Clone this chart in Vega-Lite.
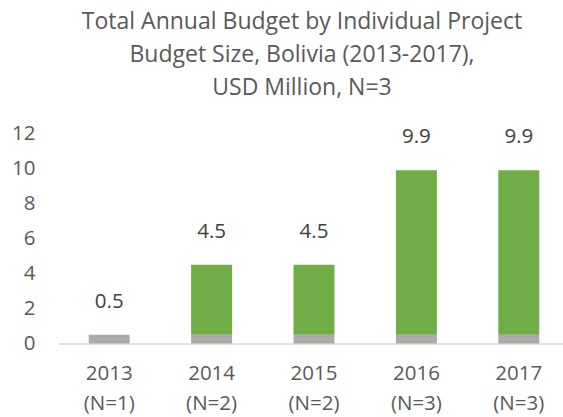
{
  "$schema": "https://vega.github.io/schema/vega-lite/v6.json",
  "autosize": {"type": "none"},
  "width": 512,
  "height": 210,
  "padding": {"left": 58, "top": 133.5, "right": 0, "bottom": 73.5},
  "background": "white",
  "config": {"view": {"stroke": null}, "axisY": {"labelOverlap": false}},
  "title": {
    "text": ["Total Annual Budget by Individual Project", "Budget Size, Bolivia (2013-2017),", "USD Million, N=3"],
    "font": "Open Sans",
    "fontSize": 23,
    "fontWeight": "normal",
    "color": "#595959",
    "lineHeight": 33,
    "anchor": "middle",
    "frame": "group",
    "baseline": "alphabetic",
    "dx": -12,
    "offset": 6
  },
  "data": {
    "values": [
      {"year": "2013 (N=1)", "size": "small", "value": 0.5},
      {"year": "2014 (N=2)", "size": "small", "value": 0.5},
      {"year": "2014 (N=2)", "size": "large", "value": 4.0},
      {"year": "2015 (N=2)", "size": "small", "value": 0.5},
      {"year": "2015 (N=2)", "size": "large", "value": 4.0},
      {"year": "2016 (N=3)", "size": "small", "value": 0.5},
      {"year": "2016 (N=3)", "size": "large", "value": 9.4},
      {"year": "2017 (N=3)", "size": "small", "value": 0.5},
      {"year": "2017 (N=3)", "size": "large", "value": 9.4}
    ]
  },
  "encoding": {
    "x": {
      "field": "year",
      "type": "nominal",
      "sort": null,
      "scale": {"paddingInner": 0.6, "paddingOuter": 0.3},
      "axis": {
        "title": null,
        "labelAngle": 0,
        "labelExpr": "split(datum.label, ' ')",
        "labelFont": "Open Sans",
        "labelFontSize": 20.5,
        "labelColor": "#595959",
        "labelLineHeight": 30,
        "labelPadding": 20,
        "ticks": false,
        "domainColor": "#d9d9d9",
        "domainWidth": 1.5,
        "grid": false
      }
    },
    "y": {
      "field": "value",
      "type": "quantitative",
      "aggregate": "sum",
      "scale": {"domain": [0, 12], "nice": false},
      "axis": {
        "title": null,
        "values": [0, 2, 4, 6, 8, 10, 12],
        "tickCount": 7,
        "labelOverlap": false,
        "labelBound": false,
        "domain": false,
        "ticks": false,
        "grid": false,
        "labelFont": "Open Sans",
        "labelFontSize": 20.5,
        "labelColor": "#595959",
        "labelPadding": 23
      }
    }
  },
  "layer": [
    {
      "mark": {"type": "bar"},
      "encoding": {
        "color": {
          "field": "size",
          "type": "nominal",
          "scale": {"domain": ["small", "large"], "range": ["#AEAAAA", "#70AD47"]},
          "legend": null
        },
        "order": {"field": "size", "sort": "descending"}
      }
    },
    {
      "mark": {"type": "text", "font": "Open Sans", "fontSize": 20.5, "color": "#404040", "baseline": "alphabetic", "dy": -27},
      "encoding": {
        "text": {"field": "value", "type": "quantitative", "aggregate": "sum", "format": ".1f"}
      }
    }
  ]
}
